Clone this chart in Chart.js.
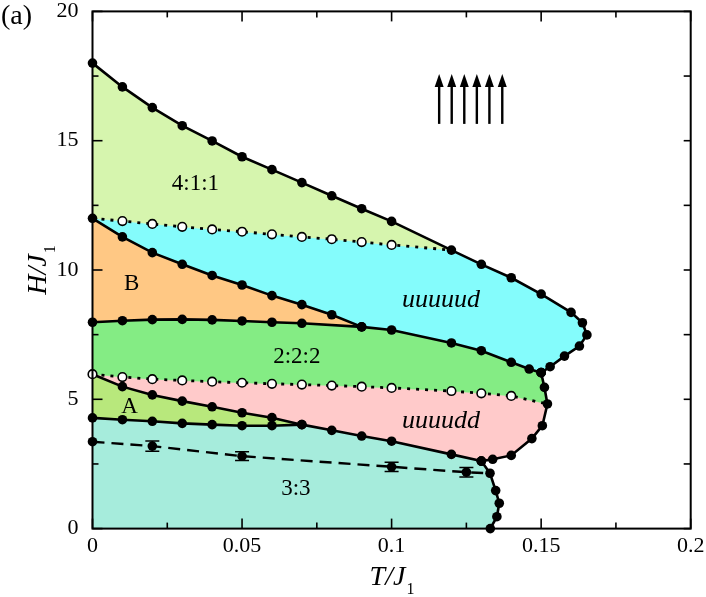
<!DOCTYPE html>
<html><head><meta charset="utf-8">
<script src="https://cdn.jsdelivr.net/npm/chart.js@4.4.0/dist/chart.umd.min.js"></script>
<style>html,body{margin:0;padding:0;background:#fff;}</style>
</head><body>
<canvas id="c" width="706" height="597"></canvas>
<script>
// ---- tick labels ----
const xTicks = [0, 0.05, 0.1, 0.15, 0.2];
const yTicks = [0, 5, 10, 15, 20];
const xMinor = [0.025, 0.075, 0.125, 0.175];
const yMinor = [2.5, 7.5, 12.5, 17.5];

// ---- phase boundaries [T/J1, H/J1] ----
const satLine = [[0,18.0],[0.01,17.08],[0.02,16.28],[0.03,15.58],[0.04,14.99],[0.05,14.38],[0.06,13.88],[0.07,13.38],[0.08,12.87],[0.09,12.37],[0.1,11.88],[0.12,10.77],[0.13,10.22],[0.14,9.70],[0.15,9.07],[0.16,8.36],[0.1638,7.96],[0.1653,7.49],[0.1628,7.06],[0.1578,6.67],[0.153,6.26],[0.150,6.03]];
const dot411 = [[0,12.0],[0.01,11.89],[0.02,11.78],[0.03,11.67],[0.04,11.57],[0.05,11.48],[0.06,11.38],[0.07,11.28],[0.08,11.19],[0.09,11.08],[0.1,10.97],[0.12,10.77]];
const bUpper = [[0,12.0],[0.01,11.28],[0.02,10.67],[0.03,10.22],[0.04,9.79],[0.05,9.42],[0.06,9.01],[0.07,8.66],[0.08,8.27],[0.09,7.80]];
const line8 = [[0,7.98],[0.01,8.04],[0.02,8.08],[0.03,8.09],[0.04,8.07],[0.05,8.03],[0.06,7.98],[0.07,7.94],[0.09,7.80],[0.1,7.68],[0.12,7.18],[0.13,6.88],[0.14,6.43],[0.146,6.17],[0.150,6.03]];
const rightLower = [[0.150,6.03],[0.1511,5.46],[0.1521,4.82],[0.1504,3.98],[0.1469,3.48],[0.140,2.83],[0.1338,2.68],[0.130,2.61]];
const dot222 = [[0,5.97],[0.01,5.86],[0.02,5.78],[0.03,5.73],[0.04,5.68],[0.05,5.64],[0.06,5.60],[0.07,5.57],[0.08,5.53],[0.09,5.49],[0.1,5.44],[0.12,5.32],[0.13,5.23],[0.14,5.13],[0.1521,4.82]];
const aUpper = [[0,5.97],[0.01,5.49],[0.02,5.17],[0.03,4.93],[0.04,4.71],[0.05,4.48],[0.06,4.29],[0.07,4.02],[0.08,3.80],[0.09,3.58],[0.1,3.38],[0.12,2.87],[0.13,2.61]];
const aLower = [[0,4.28],[0.01,4.21],[0.02,4.15],[0.03,4.07],[0.04,4.02],[0.05,3.98],[0.06,3.98],[0.07,4.02]];
const line33 = [[0.130,2.61],[0.1329,2.14],[0.1348,1.47],[0.136,0.98],[0.1352,0.46],[0.133,0]];
const fitLine = [[0,3.36],[0.02,3.19],[0.05,2.80],[0.1,2.39],[0.125,2.18],[0.1325,2.14]];
// error bars
const errT = [0.02, 0.05, 0.1, 0.125];
const errH = [3.19, 2.80, 2.39, 2.18];
const errD = [0.20, 0.17, 0.18, 0.18];
// arrows (fully polarized state)
const arrowT = [0.1159, 0.1201, 0.1243, 0.1285, 0.1327, 0.1370];
const arrowH = [15.65, 17.58];
// phase labels
const phaseNames = ['4:1:1','B','2:2:2','A','3:3','uuuuud','uuuudd'];
const phaseT = [0.0344, 0.0131, 0.0683, 0.0124, 0.068, 0.1165, 0.1165];
const phaseH = [13.34, 9.46, 6.64, 4.72, 1.53, 8.82, 4.17];
const phaseItalic = [false,false,false,false,false,true,true];
// region colours
const phaseColors = ['#d6f5ae', '#84fcfc', '#ffc884', '#84ec84', '#ffcaca', '#b8e87c', '#a6ecdc'];

const X0 = xTicks[0], Y0 = yTicks[0];

// ---- region polygons built from the boundaries ----
const i12 = satLine.findIndex(p => p[0] === 0.12);
const i09 = line8.findIndex(p => p[0] === 0.09);
const i07 = aUpper.findIndex(p => p[0] === 0.07);
const poly411 = satLine.slice(0, i12 + 1).concat(dot411.slice(0, -1).reverse());
const polyCyan = dot411.concat(satLine.slice(i12 + 1), line8.slice(i09, -1).reverse(), bUpper.slice(0, -1).reverse());
const polyB = bUpper.concat(line8.slice(0, i09).reverse());
const poly222 = line8.concat(rightLower.slice(1, 3), dot222.slice(0, -1).reverse());
const polyDD = dot222.concat(rightLower.slice(3), aUpper.slice(0, -1).reverse());
const polyA = aUpper.slice(0, i07 + 1).concat(aLower.slice(0, -1).reverse());
const poly33 = aLower.concat(aUpper.slice(i07 + 1), line33.slice(1), [[X0, Y0]]);

const toXY = a => a.map(p => ({x: p[0], y: p[1]}));

function fillDS(poly, col) {
  return {data: toXY(poly), fill: 'shape', backgroundColor: col,
    borderColor: col, borderWidth: 0.5, pointRadius: 0, tension: 0, order: 10};
}
function lineDS(pts, opts) {
  return Object.assign({data: toXY(pts), fill: false, borderColor: '#000', borderWidth: 2.6,
    pointRadius: 4.8, pointBackgroundColor: '#000', pointBorderColor: '#000', pointBorderWidth: 0,
    tension: 0, clip: false, order: 2}, opts || {});
}
const R = 4.8;
const rads = (arr, zeroIdx) => arr.map((_, i) => zeroIdx.includes(i) || zeroIdx.includes(i - arr.length) ? 0 : R);

const SERIF = '"Liberation Serif", "Times New Roman", serif';

function build() {
const datasets = [
  fillDS(poly411, phaseColors[0]),
  fillDS(polyCyan, phaseColors[1]),
  fillDS(polyB, phaseColors[2]),
  fillDS(poly222, phaseColors[3]),
  fillDS(polyDD, phaseColors[4]),
  fillDS(polyA, phaseColors[5]),
  fillDS(poly33, phaseColors[6]),
  lineDS(satLine),
  lineDS(bUpper),
  lineDS(line8),
  lineDS(rightLower),
  lineDS(aUpper, {pointRadius: rads(aUpper, [0])}),
  lineDS(aLower),
  lineDS(line33),
  lineDS(fitLine, {borderDash: [12, 7], borderWidth: 2.4, pointRadius: rads(fitLine, [-1])}),
  lineDS(dot411, {borderDash: [3, 6], borderWidth: 2.8, pointRadius: rads(dot411, [0, -1]).map(r => r ? 4.3 : 0),
    pointBackgroundColor: '#fff', pointBorderWidth: 1.6, order: 1}),
  lineDS(dot222, {borderDash: [3, 6], borderWidth: 2.8, pointRadius: rads(dot222, [-1]).map(r => r ? 4.3 : 0),
    pointBackgroundColor: '#fff', pointBorderWidth: 1.6, order: 1})
];

const decor = {
  id: 'decor',
  afterDatasetsDraw(chart) {
    const ctx = chart.ctx, a = chart.chartArea, xs = chart.scales.x, ys = chart.scales.y;
    ctx.save();
    ctx.strokeStyle = '#000'; ctx.lineWidth = 1.5;
    errT.forEach((t, i) => {
      const px = xs.getPixelForValue(t), p1 = ys.getPixelForValue(errH[i] + errD[i]), p2 = ys.getPixelForValue(errH[i] - errD[i]);
      ctx.beginPath(); ctx.moveTo(px, p1); ctx.lineTo(px, p2);
      ctx.moveTo(px - 7, p1); ctx.lineTo(px + 7, p1);
      ctx.moveTo(px - 7, p2); ctx.lineTo(px + 7, p2); ctx.stroke();
    });
    ctx.lineWidth = 1.6;
    const tick = (x1, y1, x2, y2) => { ctx.beginPath(); ctx.moveTo(x1, y1); ctx.lineTo(x2, y2); ctx.stroke(); };
    xTicks.forEach(v => { const p = xs.getPixelForValue(v); tick(p, a.bottom, p, a.bottom - 10); tick(p, a.top, p, a.top + 10); });
    xMinor.forEach(v => { const p = xs.getPixelForValue(v); tick(p, a.bottom, p, a.bottom - 6); tick(p, a.top, p, a.top + 6); });
    yTicks.forEach(v => { const p = ys.getPixelForValue(v); tick(a.left, p, a.left + 10, p); tick(a.right, p, a.right - 7, p); });
    yMinor.forEach(v => { const p = ys.getPixelForValue(v); tick(a.left, p, a.left + 6, p); tick(a.right, p, a.right - 7, p); });
    ctx.lineWidth = 2;
    ctx.strokeRect(a.left, a.top, a.right - a.left, a.bottom - a.top);
    ctx.lineWidth = 2.4; ctx.fillStyle = '#000';
    arrowT.forEach(t => {
      const px = xs.getPixelForValue(t), pb = ys.getPixelForValue(arrowH[0]), pt = ys.getPixelForValue(arrowH[1]);
      tick(px, pb, px, pt + 10);
      ctx.beginPath(); ctx.moveTo(px, pt); ctx.lineTo(px - 4.5, pt + 13); ctx.lineTo(px + 4.5, pt + 13); ctx.closePath(); ctx.fill();
    });
    ctx.fillStyle = '#000'; ctx.textAlign = 'center'; ctx.textBaseline = 'middle';
    phaseNames.forEach((s, i) => {
      ctx.font = (phaseItalic[i] ? 'italic 26px ' : '23px ') + SERIF;
      ctx.fillText(s, xs.getPixelForValue(phaseT[i]), ys.getPixelForValue(phaseH[i]));
    });
    ctx.restore();
  },
  afterDraw(chart) {
    const ctx = chart.ctx;
    ctx.save(); ctx.fillStyle = '#000'; ctx.textBaseline = 'alphabetic'; ctx.textAlign = 'left';
    ctx.font = '28px ' + SERIF; ctx.fillText('(a)', 1, 24);
    const sub = (main, s, cx, by) => {
      ctx.font = 'italic 28px ' + SERIF; const w1 = ctx.measureText(main).width;
      ctx.font = '16px ' + SERIF; const w2 = ctx.measureText(s).width;
      const x0 = cx - (w1 + w2 + 1) / 2;
      ctx.font = 'italic 28px ' + SERIF; ctx.fillText(main, x0, by);
      ctx.font = '16px ' + SERIF; ctx.fillText(s, x0 + w1 + 1, by + 9);
    };
    sub('T/J', '1', 392, 585);
    ctx.translate(46, 270); ctx.rotate(-Math.PI / 2);
    sub('H/J', '1', 0, 0);
    ctx.restore();
  }
};

new Chart(document.getElementById('c'), {
  type: 'line',
  data: {datasets},
  options: {
    responsive: false, animation: false, devicePixelRatio: 1,
    layout: {padding: {left: 0, top: 11.4, right: 15.3, bottom: 0}},
    plugins: {legend: {display: false}, tooltip: {enabled: false}},
    scales: {
      x: {type: 'linear', min: xTicks[0], max: xTicks[xTicks.length - 1],
        grid: {display: false}, border: {display: false},
        afterBuildTicks: s => { s.ticks = xTicks.map(v => ({value: v})); },
        afterFit: s => { s.height = 68.4; s.paddingLeft = 0; s.paddingRight = 0; },
        ticks: {autoSkip: false, maxRotation: 0, padding: -4, color: '#000',
          font: {family: SERIF, size: 22}, callback: v => String(+(+v).toFixed(3))}},
      y: {type: 'linear', min: yTicks[0], max: yTicks[yTicks.length - 1],
        grid: {display: false}, border: {display: false},
        afterBuildTicks: s => { s.ticks = yTicks.map(v => ({value: v})); },
        afterFit: s => { s.width = 92.5; s.paddingTop = 0; s.paddingBottom = 0; },
        ticks: {autoSkip: false, padding: 6, color: '#000',
          font: {family: SERIF, size: 22}, callback: v => String(v)}}
    }
  },
  plugins: [decor]
});
}

const fontLoads = ['22px "Liberation Serif"', 'italic 28px "Liberation Serif"', '16px "Liberation Serif"']
  .map(f => document.fonts.load(f).catch(() => null));
Promise.all(fontLoads).then(build, build);
</script>
</body></html>
